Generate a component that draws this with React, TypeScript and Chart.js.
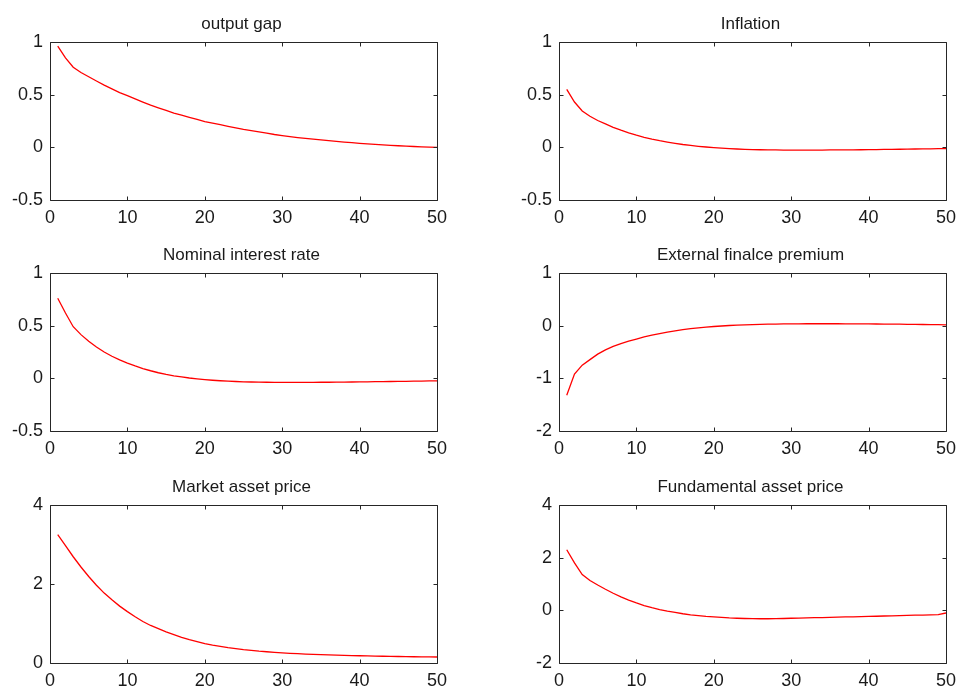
import React, { useEffect, useRef } from "react";
import { Chart, registerables } from "chart.js";

Chart.register(...registerables);

const periods = [
  1, 2, 3, 4, 5, 6, 7, 8, 9, 10, 11, 12, 13, 14, 15, 16, 17, 18, 19, 20, 21, 22, 23, 24, 25,
  26, 27, 28, 29, 30, 31, 32, 33, 34, 35, 36, 37, 38, 39, 40, 41, 42, 43, 44, 45, 46, 47, 48, 49, 50,
];

const outputGap = [
  0.96, 0.85, 0.76, 0.71, 0.67, 0.63, 0.59, 0.555, 0.52, 0.49, 0.46, 0.43, 0.4, 0.375, 0.35, 0.325,
  0.305, 0.285, 0.265, 0.245, 0.23, 0.215, 0.2, 0.185, 0.17, 0.158, 0.146, 0.134, 0.122, 0.112, 0.102,
  0.093, 0.085, 0.077, 0.07, 0.063, 0.056, 0.05, 0.044, 0.038, 0.033, 0.028, 0.023, 0.019, 0.015,
  0.011, 0.008, 0.005, 0.002, 0.0,
];

const inflation = [
  0.55, 0.43, 0.345, 0.295, 0.255, 0.222, 0.19, 0.163, 0.138, 0.115, 0.095, 0.078, 0.063, 0.05, 0.038,
  0.027, 0.018, 0.01, 0.003, -0.003, -0.008, -0.012, -0.016, -0.019, -0.021, -0.023, -0.024, -0.025,
  -0.026, -0.026, -0.026, -0.026, -0.026, -0.026, -0.025, -0.025, -0.024, -0.024, -0.023, -0.022,
  -0.021, -0.02, -0.019, -0.018, -0.017, -0.016, -0.015, -0.014, -0.013, -0.012,
];

const interestRate = [
  0.76, 0.62, 0.49, 0.415, 0.352, 0.298, 0.25, 0.21, 0.175, 0.145, 0.118, 0.093, 0.072, 0.053, 0.037,
  0.024, 0.013, 0.003, -0.005, -0.012, -0.018, -0.023, -0.027, -0.03, -0.033, -0.035, -0.036, -0.037,
  -0.038, -0.038, -0.038, -0.038, -0.038, -0.038, -0.037, -0.037, -0.036, -0.036, -0.035, -0.034,
  -0.033, -0.032, -0.031, -0.03, -0.029, -0.028, -0.027, -0.026, -0.025, -0.024,
];

const financePremium = [
  -1.32, -0.92, -0.75, -0.645, -0.54, -0.46, -0.395, -0.34, -0.295, -0.255, -0.215, -0.18, -0.15,
  -0.122, -0.098, -0.077, -0.058, -0.042, -0.028, -0.016, -0.006, 0.003, 0.01, 0.016, 0.021, 0.025,
  0.028, 0.031, 0.033, 0.034, 0.035, 0.036, 0.036, 0.036, 0.036, 0.036, 0.035, 0.035, 0.034, 0.033,
  0.032, 0.031, 0.03, 0.028, 0.026, 0.024, 0.022, 0.02, 0.018, 0.016,
];

const marketPrice = [
  3.25, 2.97, 2.69, 2.43, 2.19, 1.97, 1.77, 1.6, 1.44, 1.3, 1.17, 1.05, 0.95, 0.87, 0.79, 0.72, 0.65,
  0.59, 0.54, 0.49, 0.45, 0.42, 0.39, 0.365, 0.34, 0.32, 0.3, 0.285, 0.27, 0.257, 0.246, 0.236, 0.227,
  0.219, 0.212, 0.205, 0.199, 0.193, 0.188, 0.183, 0.179, 0.175, 0.171, 0.167, 0.164, 0.161, 0.158,
  0.156, 0.154, 0.152,
];

const fundamentalPrice = [
  2.3, 1.8, 1.36, 1.13, 0.96, 0.8, 0.65, 0.51, 0.39, 0.28, 0.18, 0.1, 0.03, -0.03, -0.08, -0.13, -0.17,
  -0.2, -0.23, -0.25, -0.27, -0.29, -0.3, -0.31, -0.315, -0.32, -0.32, -0.315, -0.31, -0.3, -0.295,
  -0.29, -0.28, -0.275, -0.27, -0.26, -0.25, -0.245, -0.24, -0.23, -0.225, -0.215, -0.21, -0.2, -0.195,
  -0.185, -0.18, -0.17, -0.16, -0.1,
];

const titles = [
  "output gap",
  "Inflation",
  "Nominal interest rate",
  "External finalce premium",
  "Market asset price",
  "Fundamental asset price",
];

const seriesList = [outputGap, inflation, interestRate, financePremium, marketPrice, fundamentalPrice];

// y-axis ranges: [min, max, step]
const yRanges = [
  [-0.5, 1, 0.5],
  [-0.5, 1, 0.5],
  [-0.5, 1, 0.5],
  [-2, 1, 1],
  [0, 4, 2],
  [-2, 4, 2],
];

const xRange = [0, 50, 10];

// layout (pixels)
const PLOT_LEFTS = [50, 559];
const PLOT_TOPS = [42, 273, 505];
const PLOT_W = 387;
const PLOT_H = 158;
const PAD_L = 50;
const PAD_T = 42;
const PAD_R = 12;
const PAD_B = 27;

const AXIS_COLOR = "#262626";
const TICK_FONT = "'Liberation Sans', Arial, sans-serif";
const TITLE_FONT = "'Liberation Sans', Arial, sans-serif";

const matlabAxesPlugin = {
  id: "matlabAxes",
  afterDraw(chart: any) {
    const ctx = chart.ctx;
    const { left, right, top, bottom } = chart.chartArea;
    const L = Math.round(left) + 0.5;
    const R = Math.round(right) + 0.5;
    const T = Math.round(top) + 0.5;
    const B = Math.round(bottom) + 0.5;
    ctx.save();
    ctx.strokeStyle = AXIS_COLOR;
    ctx.lineWidth = 1;
    ctx.beginPath();
    ctx.rect(L, T, R - L, B - T);
    ctx.stroke();
    const tl = 4;
    const xs = chart.scales.x;
    const ys = chart.scales.y;
    ctx.beginPath();
    xs.ticks.forEach((t: any) => {
      const px = Math.round(xs.getPixelForValue(t.value)) + 0.5;
      ctx.moveTo(px, B);
      ctx.lineTo(px, B - tl);
      ctx.moveTo(px, T);
      ctx.lineTo(px, T + tl);
    });
    ys.ticks.forEach((t: any) => {
      const py = Math.round(ys.getPixelForValue(t.value)) + 0.5;
      ctx.moveTo(L, py);
      ctx.lineTo(L + tl, py);
      ctx.moveTo(R, py);
      ctx.lineTo(R - tl, py);
    });
    ctx.stroke();
    const title = chart.options.plugins.matlabAxes.title;
    ctx.fillStyle = "#1a1a1a";
    ctx.font = "17px " + TITLE_FONT;
    ctx.textAlign = "center";
    ctx.textBaseline = "alphabetic";
    ctx.fillText(title, (left + right) / 2 - 2, top - 13.5);
    ctx.restore();
  },
};

function SubPlot({ index }: { index: number }) {
  const ref = useRef<HTMLCanvasElement | null>(null);
  const col = index % 2;
  const row = Math.floor(index / 2);
  const cw = PAD_L + PLOT_W + PAD_R;
  const ch = PAD_T + PLOT_H + PAD_B;
  const cl = PLOT_LEFTS[col] - PAD_L;
  const ct = PLOT_TOPS[row] - PAD_T;

  useEffect(() => {
    if (!ref.current) return;
    const values = seriesList[index];
    const [ymin, ymax, ystep] = yRanges[index];
    const chart = new Chart(ref.current, {
      type: "line",
      data: {
        datasets: [
          {
            data: periods.map((p, i) => ({ x: p, y: values[i] })),
            borderColor: "#ff0000",
            borderWidth: 1.3,
            pointRadius: 0,
            tension: 0,
            fill: false,
          },
        ],
      },
      plugins: [matlabAxesPlugin],
      options: {
        responsive: false,
        animation: false,
        events: [],
        layout: { padding: { left: 0, top: PAD_T, right: PAD_R, bottom: 0 } },
        plugins: {
          legend: { display: false },
          tooltip: { enabled: false },
          title: { display: false },
          matlabAxes: { title: titles[index] },
        } as any,
        scales: {
          x: {
            type: "linear",
            min: xRange[0],
            max: xRange[1],
            grid: { display: false, drawTicks: false },
            border: { display: false },
            ticks: {
              stepSize: xRange[2],
              padding: 7,
              color: "#1a1a1a",
              font: { family: TICK_FONT, size: 18 },
              maxRotation: 0,
              autoSkip: false,
              callback: (v: any) => String(v),
            },
            afterFit: (s: any) => {
              s.height = PAD_B;
              s.paddingLeft = 0;
              s.paddingRight = 0;
            },
          },
          y: {
            type: "linear",
            min: ymin,
            max: ymax,
            grid: { display: false, drawTicks: false },
            border: { display: false },
            ticks: {
              stepSize: ystep,
              padding: 7,
              color: "#1a1a1a",
              font: { family: TICK_FONT, size: 18 },
              autoSkip: false,
              callback: (v: any) => String(v),
            },
            afterFit: (s: any) => {
              s.width = PAD_L;
              s.paddingTop = 0;
              s.paddingBottom = 0;
            },
          },
        },
      } as any,
    });
    return () => chart.destroy();
  }, [index]);

  return (
    <canvas
      ref={ref}
      width={cw}
      height={ch}
      style={{ position: "absolute", left: cl, top: ct, width: cw, height: ch }}
    />
  );
}

export default function App() {
  return (
    <div
      style={{
        position: "absolute",
        left: 0,
        top: 0,
        width: 958,
        height: 690,
        background: "#ffffff",
        overflow: "hidden",
      }}
    >
      {[0, 1, 2, 3, 4, 5].map((i) => (
        <SubPlot key={i} index={i} />
      ))}
    </div>
  );
}
